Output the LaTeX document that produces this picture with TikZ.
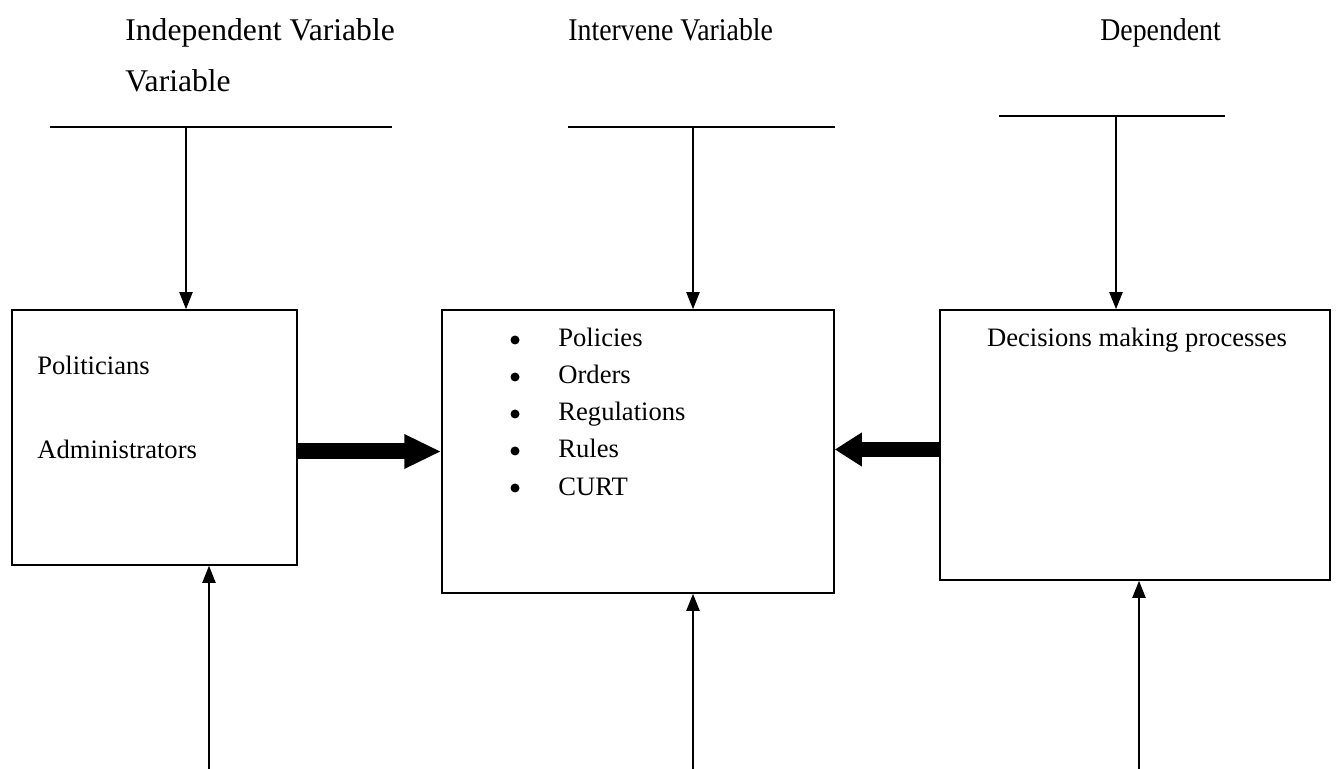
\documentclass[tikz,border=0pt]{standalone}
\usepackage{fontspec}
\setmainfont{Liberation Serif}
\usetikzlibrary{arrows.meta}
\begin{document}
\begin{tikzpicture}
[x=0.5pt,y=-0.5pt,%
  thinLine/.style={-,line width=1pt},%
  thinArrow/.style={-{Triangle[length=8.5pt,width=6.5pt]},line width=1pt},%
  boxDecorate/.style={shape=rectangle,draw,line width=0.75pt,inner sep=0pt},%
  bulletDot/.style={shape=circle,fill,inner sep=0pt,minimum size=4.5pt},%
  titleText/.style={anchor=base west,inner sep=0pt,font=\fontsize{15.8}{19}\selectfont},%
  boxText/.style={anchor=base west,inner sep=0pt,font=\fontsize{13.3}{16}\selectfont}]
\useasboundingbox (0,0) rectangle (1343,769);
%% titles
\node (indep) at (125,41) [titleText] {Independent Variable};
\node (indepb) at (125,92) [titleText] {Variable};
\node (interv) at (568,41) [titleText,xscale=0.88] {Intervene Variable};
\node (dep) at (1100,41) [titleText,xscale=0.88] {Dependent};
%% boxes
\node (box1) at (154.5,437.5) [boxDecorate,minimum width=142.5pt,minimum height=127.5pt] {};
\node (box2) at (638,451.5) [boxDecorate,minimum width=196pt,minimum height=141.5pt] {};
\node (box3) at (1135,445) [boxDecorate,minimum width=195pt,minimum height=135pt] {};
%% box texts
\node (polit) at (37,375) [boxText] {Politicians};
\node (admin) at (37,459) [boxText] {Administrators};
\foreach \name/\txt/\y in {pol/Policies/347, ord/Orders/384, reg/Regulations/421, rul/Rules/458, curt/CURT/495}
{
  \node (\name dot) at (515,\y-7) [bulletDot] {};
  \node (\name) at (558,\y) [boxText] {\txt};
}
\node (decis) at (1137,347) [boxText,anchor=base] {Decisions making processes};
%% top bars
\foreach \name/\xa/\xb/\xm/\y in {top1/50/392/186/127, top2/568/835/693/127, top3/999/1225/1116/116}
{
  \coordinate (\name a) at (\xa,\y);
  \coordinate (\name b) at (\xb,\y);
  \coordinate (\name m) at (\xm,\y);
  \draw[thinLine] (\name a) -- (\name b);
}
%% bottom ends
\foreach \name/\x in {bot1/209, bot2/693, bot3/1139}
{
  \coordinate (\name) at (\x,769);
}
%% thin arrows from above
\path
\foreach \startnode/\endnode in {top1m/box1, top2m/box2, top3m/box3}
{
  (\startnode) edge[thinArrow] (\startnode |- \endnode.north)
};
%% thin arrows from below
\path
\foreach \startnode/\endnode in {bot1/box1, bot2/box2, bot3/box3}
{
  (\startnode) edge[thinArrow] (\startnode |- \endnode.south)
};
%% thick arrows
\draw[-{Triangle[length=18.5pt,width=16pt]},line width=8pt] (box1.east |- box2.west) -- (box2.west);
\draw[-{Triangle[length=13.5pt,width=16pt]},line width=7.5pt] (box3.west |- 0,449.5) -- (box2.east |- 0,449.5);
\end{tikzpicture}
\end{document}
